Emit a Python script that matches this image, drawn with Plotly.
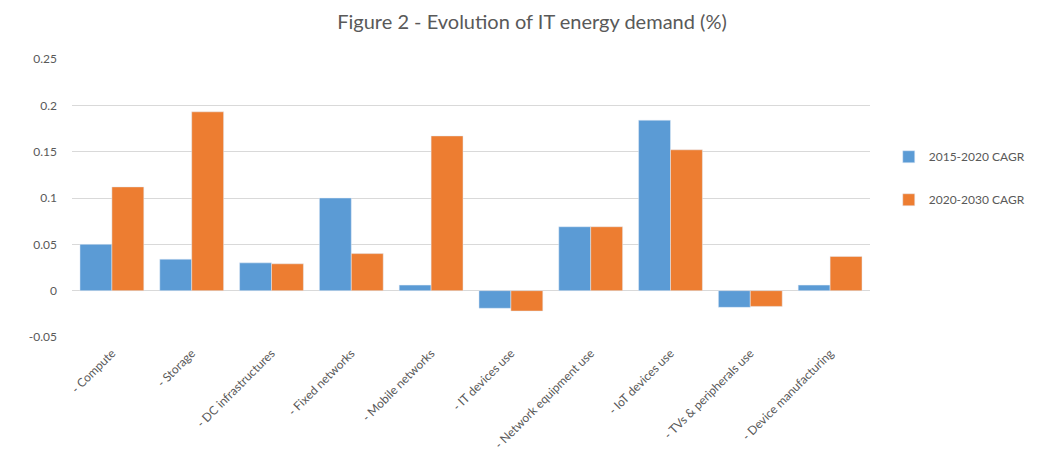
import plotly.graph_objects as go

categories = ["- Compute", "- Storage", "- DC infrastructures", "- Fixed networks",
              "- Mobile networks", "- IT devices use", "- Network equipment use",
              "- IoT devices use", "- TVs & peripherals use", "- Device manufacturing"]
cagr_2015_2020 = [0.050, 0.034, 0.030, 0.100, 0.006, -0.019, 0.069, 0.184, -0.018, 0.006]
cagr_2020_2030 = [0.112, 0.193, 0.029, 0.040, 0.167, -0.022, 0.069, 0.152, -0.017, 0.037]
series_names = ["2015-2020 CAGR", "2020-2030 CAGR"]
y_ticks = [-0.05, 0, 0.05, 0.1, 0.15, 0.2, 0.25]
y_tick_labels = ["-0.05", "0", "0.05", "0.1", "0.15", "0.2", "0.25"]

FONT = "Lato, 'Open Sans', sans-serif"

fig = go.Figure()
fig.add_trace(go.Bar(x=categories, y=cagr_2015_2020, name=series_names[0],
                     marker_color="#5B9BD5", legendgroup="a"))
fig.add_trace(go.Bar(x=categories, y=cagr_2020_2030, name=series_names[1],
                     marker_color="#ED7D31", legendgroup="b"))

fig.update_layout(
    width=1045, height=471,
    paper_bgcolor="white", plot_bgcolor="white",
    font=dict(family=FONT, color="#595959", size=12),
    title=dict(text="Figure 2 - Evolution of IT energy demand (%)",
               x=524/1045, xanchor="center", y=1 - 14/471, yanchor="middle",
               font=dict(size=20, color="#595959", family=FONT)),
    margin=dict(l=64, r=183, t=51, b=142),
    barmode="group", bargap=0.2, bargroupgap=0,
    legend=dict(x=1.0235, xanchor="left", y=0.571, yanchor="middle",
                tracegroupgap=24, font=dict(size=12, color="#595959"),
                itemwidth=30),
    showlegend=True,
)
fig.update_xaxes(tickangle=-45, showgrid=False, showline=False, ticks="",
                 ticklabelstandoff=6,
                 tickfont=dict(size=12, color="#595959"))
fig.update_yaxes(range=[-0.05, 0.25], tickvals=y_ticks, ticktext=y_tick_labels,
                 showgrid=True, gridcolor="#D9D9D9", gridwidth=1,
                 zeroline=True, zerolinecolor="#D9D9D9", zerolinewidth=1,
                 showline=False, ticks="", ticklabelstandoff=14,
                 tickfont=dict(size=12, color="#595959"))

fig.write_html("out.html")
